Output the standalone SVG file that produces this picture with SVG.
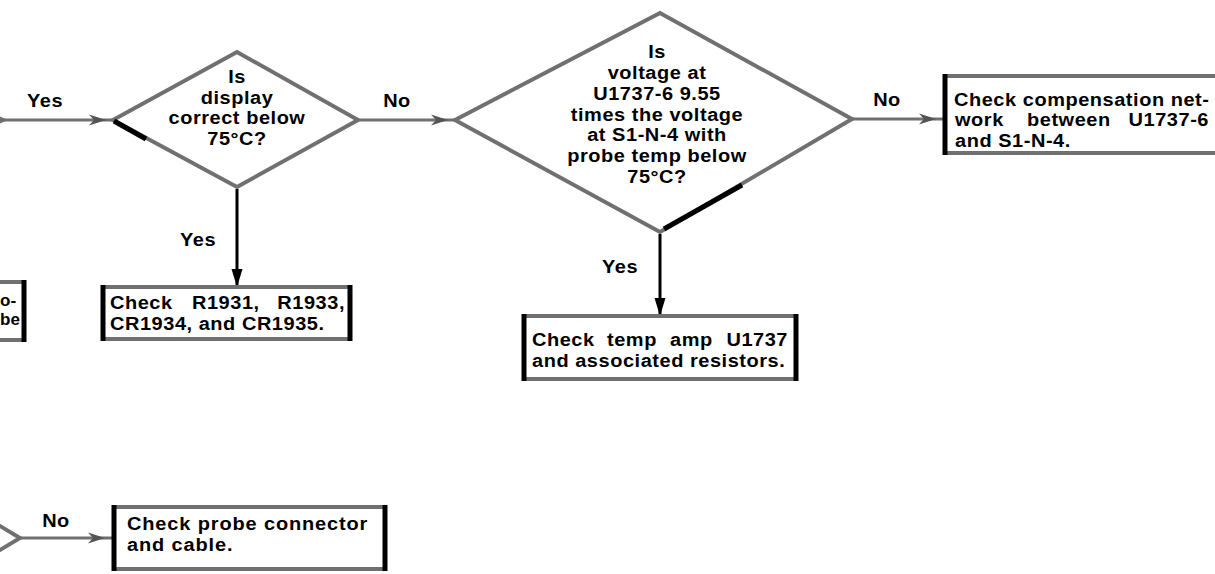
<svg xmlns="http://www.w3.org/2000/svg" width="1215" height="574" viewBox="0 0 1215 574">
<style>
.t{font-family:"Liberation Sans",Arial,sans-serif;font-weight:bold;font-size:18.5px;letter-spacing:0.5px;fill:#000}
.c{text-anchor:middle}
.e{text-anchor:end}
.dia{fill:#fff;stroke:#707070;stroke-width:4;stroke-linejoin:miter}
.edge{stroke:#000;stroke-width:5;fill:none;stroke-linecap:butt}
.bx{fill:#fff;stroke:none}
.gb{stroke:#707070;stroke-width:4}
.kb{stroke:#000;stroke-width:5}
.ha{stroke:#707070;stroke-width:3;fill:none}
.va{stroke:#000;stroke-width:3;fill:none}
</style>
<defs>
<marker id="mh" markerUnits="userSpaceOnUse" markerWidth="30" markerHeight="14" viewBox="-2 -7 30 14" refX="24" refY="0" orient="auto"><path d="M0,-5.5 L17,0 L0,5.5 L5,0 Z" fill="#555"/></marker>
<marker id="mv" markerUnits="userSpaceOnUse" markerWidth="20" markerHeight="14" viewBox="0 -7 20 14" refX="18" refY="0" orient="auto"><path d="M0,-5.5 L18,0 L0,5.5 Z" fill="#000"/></marker>
</defs>

<g id="connectors">
<line class="ha" x1="2" y1="120" x2="113" y2="120" marker-end="url(#mh)"/>
<line class="ha" x1="358" y1="120" x2="455" y2="120" marker-end="url(#mh)"/>
<line class="ha" x1="852" y1="119" x2="943" y2="119" marker-end="url(#mh)"/>
<line class="va" x1="237" y1="189" x2="237" y2="287" marker-end="url(#mv)"/>
<line class="va" x1="660" y1="234" x2="660" y2="316" marker-end="url(#mv)"/>
<line class="ha" x1="20" y1="538" x2="112" y2="538" marker-end="url(#mh)"/>
<text class="t c" transform="translate(45,107) scale(1.08,1)">Yes</text>
<text class="t c" transform="translate(397,107) scale(1.08,1)">No</text>
<text class="t c" transform="translate(887,106) scale(1.08,1)">No</text>
<text class="t c" transform="translate(198,246) scale(1.08,1)">Yes</text>
<text class="t c" transform="translate(620,273) scale(1.08,1)">Yes</text>
<text class="t c" transform="translate(56,527) scale(1.08,1)">No</text>
</g>

<g id="d-partial-top">
<polyline class="dia" points="-12,113 3,120 -12,127" fill="none"/>
</g>

<g id="d-display">
<polygon class="dia" points="113,120 237,52 358,120 237,187"/>
<line class="edge" x1="114" y1="121" x2="146" y2="139"/>
<text class="t c" transform="translate(237,83) scale(1.08,1)">Is</text>
<text class="t c" transform="translate(237,103.7) scale(1.08,1)">display</text>
<text class="t c" transform="translate(237,124.4) scale(1.08,1)">correct below</text>
<text class="t c" transform="translate(237,145.1) scale(1.08,1)">75°C?</text>
</g>

<g id="d-voltage">
<polygon class="dia" points="455,120 660,13 852,119 660,232"/>
<line class="edge" x1="742" y1="185" x2="664" y2="229"/>
<text class="t c" transform="translate(657,58.4) scale(1.08,1)">Is</text>
<text class="t c" transform="translate(657,79.1) scale(1.08,1)">voltage at</text>
<text class="t c" transform="translate(657,99.8) scale(1.08,1)">U1737-6 9.55</text>
<text class="t c" transform="translate(657,120.5) scale(1.08,1)">times the voltage</text>
<text class="t c" transform="translate(657,141.2) scale(1.08,1)">at S1-N-4 with</text>
<text class="t c" transform="translate(657,161.9) scale(1.08,1)">probe temp below</text>
<text class="t c" transform="translate(657,182.6) scale(1.08,1)">75°C?</text>
</g>

<g id="d-partial-bottom">
<polyline class="dia" points="-10,520 20,538 -10,556" fill="none"/>
</g>

<g id="b-partial">
<rect class="bx" x="-20" y="282" width="44" height="58"/>
<line class="gb" x1="-20" y1="282" x2="26" y2="282"/>
<line class="gb" x1="-20" y1="340" x2="26" y2="340"/>
<line class="kb" x1="24" y1="280" x2="24" y2="342"/>
<text class="t" style="font-size:17px;letter-spacing:0" x="0" y="306">o-</text>
<text class="t" style="font-size:17px;letter-spacing:0" x="0" y="325">be</text>
</g>

<g id="b-resistors">
<rect class="bx" x="101" y="287" width="251" height="52"/>
<line class="gb" x1="101" y1="287" x2="352" y2="287"/>
<line class="gb" x1="101" y1="339" x2="352" y2="339"/>
<line class="kb" x1="103" y1="285" x2="103" y2="341"/>
<line class="kb" x1="350" y1="285" x2="350" y2="341"/>
<text class="t" transform="translate(110,309) scale(1.08,1)">Check</text>
<text class="t" transform="translate(192,309) scale(1.08,1)">R1931,</text>
<text class="t e" transform="translate(345,309) scale(1.08,1)">R1933,</text>
<text class="t" transform="translate(110,329.5) scale(1.08,1)">CR1934, and CR1935.</text>
</g>

<g id="b-tempamp">
<rect class="bx" x="522" y="316" width="276" height="63"/>
<line class="gb" x1="522" y1="316" x2="798" y2="316"/>
<line class="gb" x1="522" y1="379" x2="798" y2="379"/>
<line class="kb" x1="524" y1="314" x2="524" y2="381"/>
<line class="kb" x1="796" y1="314" x2="796" y2="381"/>
<text class="t" transform="translate(532,346) scale(1.08,1)">Check</text>
<text class="t" transform="translate(607,346) scale(1.08,1)">temp</text>
<text class="t" transform="translate(670,346) scale(1.08,1)">amp</text>
<text class="t e" transform="translate(788,346) scale(1.08,1)">U1737</text>
<text class="t" transform="translate(532,366.5) scale(1.08,1)">and associated resistors.</text>
</g>

<g id="b-compensation">
<rect class="bx" x="943" y="76" width="282" height="77"/>
<line class="gb" x1="943" y1="76" x2="1225" y2="76"/>
<line class="gb" x1="943" y1="153" x2="1225" y2="153"/>
<line class="kb" x1="945" y1="74" x2="945" y2="155"/>
<text class="t" transform="translate(954,105.5) scale(1.08,1)">Check compensation net-</text>
<text class="t" transform="translate(955,126.2) scale(1.08,1)">work</text>
<text class="t" transform="translate(1027,126.2) scale(1.08,1)">between</text>
<text class="t e" transform="translate(1209,126.2) scale(1.08,1)">U1737-6</text>
<text class="t" transform="translate(955,146.9) scale(1.08,1)">and S1-N-4.</text>
</g>

<g id="b-probe">
<rect class="bx" x="112" y="507" width="275" height="62"/>
<line class="gb" x1="112" y1="507" x2="387" y2="507"/>
<line class="gb" x1="112" y1="569" x2="387" y2="569"/>
<line class="kb" x1="114" y1="505" x2="114" y2="571"/>
<line class="kb" x1="385" y1="505" x2="385" y2="571"/>
<text class="t" style="letter-spacing:0.8px" transform="translate(127,530) scale(1.08,1)">Check probe connector</text>
<text class="t" style="letter-spacing:0.8px" transform="translate(127,550.5) scale(1.08,1)">and cable.</text>
</g>
</svg>
